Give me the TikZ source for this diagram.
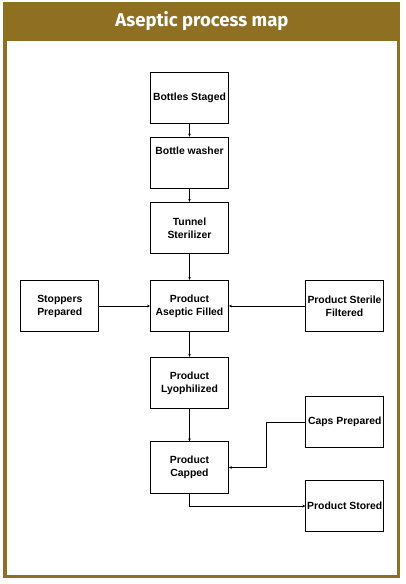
\documentclass[tikz,border=0pt]{standalone}
\usepackage{fontspec}
\setmainfont{Liberation Sans}
\newfontfamily\titlefont{Fira Sans}
\usetikzlibrary{arrows.meta}
\definecolor{frame}{RGB}{143,111,34}
\tikzset{
  box/.style={draw=black, line width=0.8pt, fill=white, minimum width=78pt, minimum height=51.5pt, inner sep=0pt,
    align=center, font=\fontsize{10.4}{13}\selectfont\bfseries},
  boxtext/.style={font=\fontsize{10.4}{13}\selectfont\bfseries, inner sep=0pt},
  arr/.style={draw=black, line width=0.6pt, -{Stealth[length=3pt,width=2.6pt]}},
}
\begin{document}
\begin{tikzpicture}[x=1pt,y=-1pt]
\useasboundingbox (0,0) rectangle (406,584);
\fill[frame] (3,2) rectangle (400,578);
\fill[white] (7,41) rectangle (397,575);
\node[font=\titlefont\fontsize{18.5}{20}\selectfont\bfseries, text=white] (title) at (202,21) {Aseptic process map};

\node[box] (bs) at (189.5,98) {Bottles Staged};
\node[box, label={[boxtext, yshift=12pt]center:Bottle washer}] (bw) at (189.5,162.8) {};
\node[box] (ts) at (189.5,228) {Tunnel\\Sterilizer};
\node[box] (paf) at (189.5,306) {Product\\Aseptic Filled};
\node[box] (sp) at (59.8,306) {Stoppers\\Prepared};
\node[box] (psf) at (344.5,306) {Product Sterile\\Filtered};
\node[box] (pl) at (189.5,383) {Product\\Lyophilized};
\node[box] (pc) at (189.5,467.5) {Product\\Capped};
\node[box] (cp) at (344.8,422) {Caps Prepared};
\node[box] (ps) at (344.8,506) {Product Stored};

\coordinate (bend) at (266.7,422);

\draw[arr] (bs) -- (bw);
\draw[arr] (bw) -- (ts);
\draw[arr] (ts) -- (paf);
\draw[arr] (sp) -- (paf);
\draw[arr] (psf) -- (paf);
\draw[arr] (paf) -- (pl);
\draw[arr] (pl) -- (pc);
\draw[arr] (cp.west) -- (bend) |- (pc.east);
\draw[arr] (pc.south) |- (ps.west);
\end{tikzpicture}
\end{document}
